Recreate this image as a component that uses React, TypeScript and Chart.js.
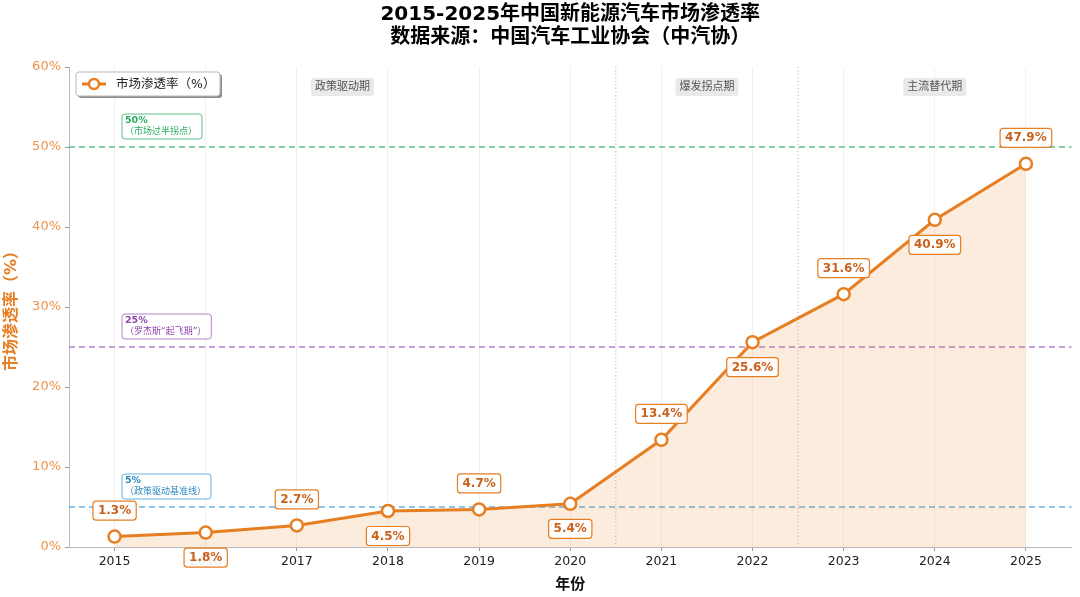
import React, { useEffect, useRef } from "react";
import { Chart, registerables } from "chart.js";

Chart.register(...registerables);

const years = [2015, 2016, 2017, 2018, 2019, 2020, 2021, 2022, 2023, 2024, 2025];
const penetration = [1.3, 1.8, 2.7, 4.5, 4.7, 5.4, 13.4, 25.6, 31.6, 40.9, 47.9];
const yTicks = [0, 10, 20, 30, 40, 50, 60];

const refLines = [
  { value: 50, title: "50%", note: "（市场过半拐点）", color: "rgba(39,174,96,0.75)", text: "#27AE60" },
  { value: 25, title: "25%", note: "（罗杰斯“起飞期”）", color: "rgba(155,89,182,0.75)", text: "#8E44AD" },
  { value: 5, title: "5%", note: "（政策驱动基准线）", color: "rgba(52,152,219,0.75)", text: "#2E86C1" },
];
const phaseBreaks = [2020.5, 2022.5];
const phases = [
  { x: 2017.5, label: "政策驱动期" },
  { x: 2021.5, label: "爆发拐点期" },
  { x: 2024, label: "主流替代期" },
];

const ORANGE = "#E67E22";
const FONT = "'DejaVu Sans', 'Noto Sans CJK SC', sans-serif";

function roundRect(ctx: CanvasRenderingContext2D, x: number, y: number, w: number, h: number, r: number) {
  ctx.beginPath();
  ctx.moveTo(x + r, y);
  ctx.lineTo(x + w - r, y);
  ctx.quadraticCurveTo(x + w, y, x + w, y + r);
  ctx.lineTo(x + w, y + h - r);
  ctx.quadraticCurveTo(x + w, y + h, x + w - r, y + h);
  ctx.lineTo(x + r, y + h);
  ctx.quadraticCurveTo(x, y + h, x, y + h - r);
  ctx.lineTo(x, y + r);
  ctx.quadraticCurveTo(x, y, x + r, y);
  ctx.closePath();
}

const extras = {
  id: "extras",
  beforeDatasetsDraw(chart: any) {
    const { ctx, chartArea, scales } = chart;
    const xs = scales.x;
    const ys = scales.y;
    ctx.save();
    // phase separators
    ctx.strokeStyle = "rgba(120,120,120,0.6)";
    ctx.lineWidth = 1;
    ctx.setLineDash([1, 2.5]);
    phaseBreaks.forEach((b) => {
      const px = xs.getPixelForValue(b);
      ctx.beginPath();
      ctx.moveTo(px, chartArea.top);
      ctx.lineTo(px, chartArea.bottom);
      ctx.stroke();
    });
    // reference lines
    ctx.lineWidth = 1.6;
    ctx.setLineDash([6, 4]);
    refLines.forEach((r) => {
      const py = ys.getPixelForValue(r.value);
      ctx.strokeStyle = r.color;
      ctx.beginPath();
      ctx.moveTo(chartArea.left, py);
      ctx.lineTo(chartArea.right, py);
      ctx.stroke();
    });
    ctx.restore();
  },
  afterDatasetsDraw(chart: any) {
    const { ctx, chartArea, scales } = chart;
    const xs = scales.x;
    const ys = scales.y;
    ctx.save();
    // reference line labels
    refLines.forEach((r) => {
      const py = ys.getPixelForValue(r.value);
      ctx.font = `9px ${FONT}`;
      const w = ctx.measureText(r.note).width + 8;
      const h = 25;
      const bx = 122;
      const by = py - 8 - h;
      roundRect(ctx, bx, by, w, h, 3);
      ctx.fillStyle = "rgba(255,255,255,0.9)";
      ctx.fill();
      ctx.strokeStyle = r.color;
      ctx.lineWidth = 1;
      ctx.stroke();
      ctx.fillStyle = r.text;
      ctx.textBaseline = "middle";
      ctx.textAlign = "left";
      ctx.font = `bold 9.5px ${FONT}`;
      ctx.fillText(r.title, bx + 3, by + 7);
      ctx.font = `9px ${FONT}`;
      ctx.fillText(r.note, bx + 3, by + 18);
    });
    // phase labels
    phases.forEach((p) => {
      const px = xs.getPixelForValue(p.x);
      ctx.font = `11px ${FONT}`;
      const w = ctx.measureText(p.label).width + 8;
      roundRect(ctx, px - w / 2, 78, w, 18, 3);
      ctx.fillStyle = "#E9E9E9";
      ctx.fill();
      ctx.fillStyle = "#555";
      ctx.textAlign = "center";
      ctx.textBaseline = "middle";
      ctx.fillText(p.label, px, 87.5);
    });
    // value labels
    const meta = chart.getDatasetMeta(0);
    meta.data.forEach((pt: any, i: number) => {
      const txt = `${penetration[i]}%`;
      ctx.font = `bold 12px ${FONT}`;
      const w = ctx.measureText(txt).width + 10;
      const h = 19;
      const cy = i % 2 === 0 ? pt.y - 26 : pt.y + 25;
      roundRect(ctx, pt.x - w / 2, cy - h / 2, w, h, 3);
      ctx.fillStyle = "rgba(255,255,255,0.92)";
      ctx.fill();
      ctx.strokeStyle = ORANGE;
      ctx.lineWidth = 1.2;
      ctx.stroke();
      ctx.fillStyle = "#C8621C";
      ctx.textAlign = "center";
      ctx.textBaseline = "middle";
      ctx.fillText(txt, pt.x, cy + 0.5);
    });
    // legend
    const lx = 76;
    const ly = 72;
    const lw = 144;
    const lh = 24;
    roundRect(ctx, lx + 2, ly + 2, lw, lh, 3);
    ctx.fillStyle = "#8c8c8c";
    ctx.fill();
    roundRect(ctx, lx, ly, lw, lh, 3);
    ctx.fillStyle = "#fff";
    ctx.fill();
    ctx.strokeStyle = "#bbb";
    ctx.lineWidth = 1;
    ctx.stroke();
    ctx.strokeStyle = ORANGE;
    ctx.lineWidth = 3;
    ctx.beginPath();
    ctx.moveTo(lx + 6, ly + lh / 2);
    ctx.lineTo(lx + 30, ly + lh / 2);
    ctx.stroke();
    ctx.beginPath();
    ctx.arc(lx + 18, ly + lh / 2, 5, 0, Math.PI * 2);
    ctx.fillStyle = "#fff";
    ctx.fill();
    ctx.lineWidth = 2.5;
    ctx.stroke();
    ctx.fillStyle = "#222";
    ctx.font = `12.5px ${FONT}`;
    ctx.textAlign = "left";
    ctx.textBaseline = "middle";
    ctx.fillText("市场渗透率（%）", lx + 40, ly + lh / 2 + 0.5);
    // title
    const tx = (chartArea.left + chartArea.right) / 2;
    ctx.fillStyle = "#000";
    ctx.textAlign = "center";
    ctx.font = `bold 20px ${FONT}`;
    ctx.fillText("2015-2025年中国新能源汽车市场渗透率", tx, 15);
    ctx.fillText("数据来源：中国汽车工业协会（中汽协）", tx, 38);
    ctx.restore();
  },
};

const App: React.FC = () => {
  const canvasRef = useRef<HTMLCanvasElement>(null);

  useEffect(() => {
    if (!canvasRef.current) return;
    const chart = new Chart(canvasRef.current, {
      type: "line",
      data: {
        datasets: [
          {
            label: "市场渗透率（%）",
            data: years.map((y, i) => ({ x: y, y: penetration[i] })),
            borderColor: ORANGE,
            borderWidth: 3,
            backgroundColor: "rgba(230,126,34,0.15)",
            fill: "origin",
            tension: 0,
            pointRadius: 6,
            pointBorderWidth: 2.5,
            pointBackgroundColor: "#fff",
            pointBorderColor: ORANGE,
          },
        ],
      },
      options: {
        animation: false,
        responsive: false,
        layout: { padding: { top: 67, right: 2, bottom: 3, left: 2 } },
        plugins: {
          legend: { display: false },
          title: { display: false },
          tooltip: { enabled: false },
        },
        scales: {
          x: {
            type: "linear",
            min: 2014.5,
            max: 2025.5,
            afterBuildTicks: (axis: any) => {
              axis.ticks = years.map((v) => ({ value: v }));
            },
            afterFit: (axis: any) => {
              axis.height = 47;
            },
            ticks: {
              color: "#222",
              font: { size: 12.5, family: FONT },
              padding: 3,
              callback: (v: any) => String(v),
            },
            grid: {
              color: "rgba(0,0,0,0.06)",
              drawTicks: true,
              tickLength: 4,
              tickColor: "#999",
            },
            border: { color: "#bbb" },
            title: {
              display: true,
              text: "年份",
              color: "#111",
              font: { size: 15, weight: "bold", family: FONT },
              padding: { top: 2, bottom: 0 },
            },
          },
          y: {
            min: 0,
            max: 60,
            afterBuildTicks: (axis: any) => {
              axis.ticks = yTicks.map((v) => ({ value: v }));
            },
            afterFit: (axis: any) => {
              axis.width = 67;
            },
            ticks: {
              color: "#E8934F",
              font: { size: 13, family: FONT },
              padding: 4,
              callback: (v: any) => `${v}%`,
            },
            grid: {
              drawOnChartArea: false,
              drawTicks: true,
              tickLength: 4,
              tickColor: "#999",
            },
            border: { color: "#bbb" },
            title: {
              display: true,
              text: "市场渗透率（%）",
              color: ORANGE,
              font: { size: 16, weight: "bold", family: FONT },
              padding: { top: 0, bottom: 0 },
            },
          },
        },
      },
      plugins: [extras],
    });
    return () => chart.destroy();
  }, []);

  return (
    <div style={{ position: "absolute", left: 0, top: 0, width: 1080, height: 597, background: "#fff" }}>
      <canvas ref={canvasRef} width={1080} height={597} style={{ width: 1080, height: 597 }} />
    </div>
  );
};

export default App;
